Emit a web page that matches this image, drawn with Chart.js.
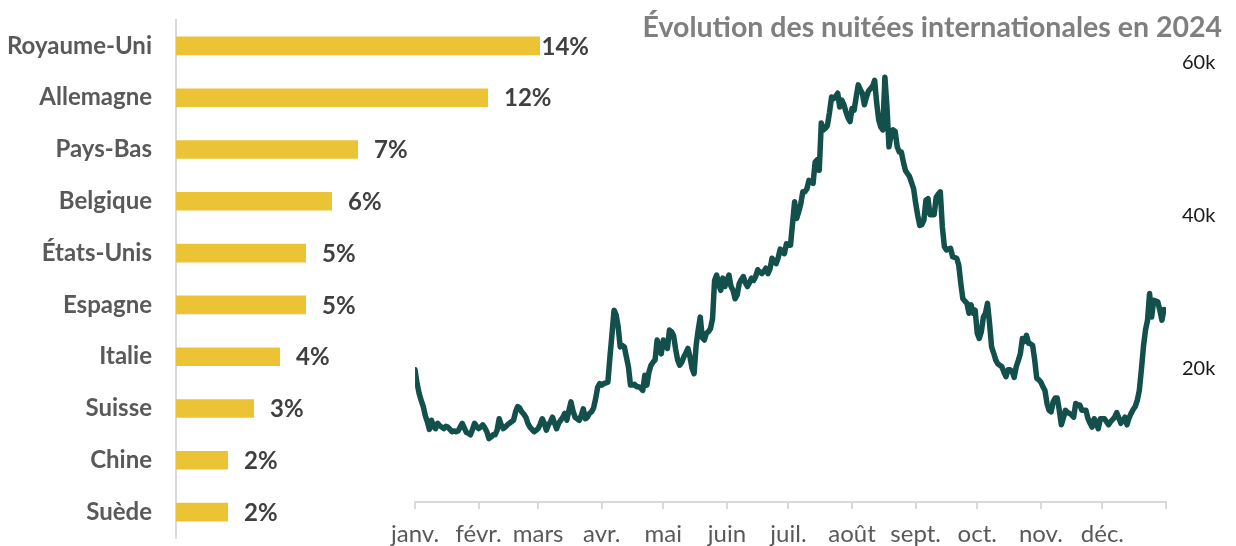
<!DOCTYPE html>
<html><head><meta charset="utf-8">
<script src="https://cdn.jsdelivr.net/npm/chart.js@4"></script>
<style>
html,body{margin:0;padding:0;background:#fff;}
#wrap{position:relative;width:1236px;height:546px;overflow:hidden;background:#fff;}
canvas{position:absolute;top:0;}
#bars{left:0;}
#ligne{left:380px;}
</style></head><body>
<div id="wrap"><canvas id="bars" width="592" height="546"></canvas><canvas id="ligne" width="856" height="546"></canvas></div>
<script>
// ---- Données : parts des nuitées internationales par pays (%)
const pays = ['Royaume-Uni','Allemagne','Pays-Bas','Belgique','États-Unis','Espagne','Italie','Suisse','Chine','Suède'];
const partsPct = [14,12,7,6,5,5,4,3,2,2];

// ---- Données : nuitées internationales quotidiennes 2024 (milliers)
const janv = [19.8,18.0,16.7,15.8,15.0,13.8,13.0,12.0,13.2,12.4,12.1,12.8,12.5,12.3,12.1,12.4,12.3,12.0,11.7,11.8,11.7,11.8,12.3,12.8,12.2,11.6,11.5,11.3,12.0,12.8,12.4];
const fevr = [12.1,12.3,12.6,12.2,11.7,10.8,11.0,11.3,11.3,11.9,13.4,12.6,12.1,12.3,12.6,12.8,13.0,13.2,14.3,15.0,14.8,14.3,14.0,13.6,12.8,12.3,12.0,11.7,11.9];
const mars = [12.1,12.7,13.4,12.8,11.9,12.6,13.0,13.6,12.8,12.1,12.8,13.2,13.6,14.1,13.2,14.5,15.6,14.4,13.6,13.4,13.2,13.8,14.7,13.4,13.6,14.1,14.3,14.8,16.0,17.5,18.0];
const avr = [17.8,18.0,18.1,18.2,21.5,24.5,27.6,27.0,25.4,22.8,23.0,22.8,21.5,20.2,17.8,17.8,17.9,17.6,17.6,17.4,17.1,19.1,17.8,19.5,20.4,20.8,21.1,23.7,22.5,21.9];
const mai = [23.7,23.0,22.6,25.0,24.8,24.3,22.5,21.1,20.4,20.8,21.5,22.0,22.6,21.5,20.0,19.3,23.0,25.0,26.7,24.0,23.7,24.6,24.8,25.2,26.5,31.5,32.2,31.0,30.2,31.8,30.7];
const juin = [31.5,32.2,30.7,30.2,29.1,29.6,31.1,31.6,32.0,31.2,30.7,31.2,31.8,31.5,32.0,32.9,32.6,32.4,32.7,33.1,32.4,33.0,34.4,34.0,33.7,34.5,35.6,35.2,35.0,36.3];
const juil = [36.1,36.1,39.0,41.8,39.6,40.5,41.5,43.1,43.1,43.5,44.6,44.4,44.2,47.0,47.3,45.9,52.1,51.2,51.4,51.8,53.5,55.5,55.3,55.6,56.0,54.2,55.1,54.5,53.6,52.8,52.3];
const aout = [54.0,53.8,55.5,57.1,56.5,56.0,54.5,55.5,56.3,56.6,56.9,57.7,54.7,52.5,51.6,51.2,58.1,54.2,49.0,50.5,51.2,51.0,49.0,48.3,48.3,47.0,45.9,45.5,45.1,44.3,43.5];
const sept = [41.6,40.0,38.7,38.8,39.4,42.0,42.2,40.1,40.1,40.1,42.4,42.8,43.1,38.5,35.9,35.5,35.6,35.7,34.6,34.5,34.4,33.5,31.1,29.1,28.8,28.5,27.2,28.3,27.2,27.6];
const oct = [24.6,23.9,24.8,26.7,27.2,28.5,25.9,22.8,22.0,21.1,20.6,20.4,20.2,19.5,18.9,19.8,19.8,19.6,18.8,20.2,21.0,21.9,23.9,23.5,24.3,23.3,23.2,23.0,21.1,18.7,18.5];
const nov = [18.2,17.6,17.1,15.4,14.5,14.3,15.6,16.1,16.1,14.5,12.6,13.5,14.5,14.2,14.1,13.9,13.6,15.4,15.2,15.2,14.5,14.5,14.5,13.4,12.8,12.3,13.4,12.8,12.1,13.4];
const dec = [13.4,13.4,13.0,12.6,13.0,13.3,13.6,14.2,13.5,12.8,13.2,13.6,12.6,13.5,14.1,14.6,15.0,15.8,17.1,19.8,22.8,25.0,26.3,29.8,26.7,28.9,28.8,28.7,27.6,26.3,27.7];

// ---- Axe des mois
const moisLabels = ['janv.','févr.','mars','avr.','mai','juin','juil.','août','sept.','oct.','nov.','déc.',''];
const debutsMois = [0,31,60,91,121,152,182,213,244,274,305,335,366];
const yTicksK = [20,40,60];

const nuitees = [].concat(janv,fevr,mars,avr,mai,juin,juil,aout,sept,oct,nov,dec);
const jours = nuitees.map((_, i) => i);

const FONT = 'Lato, "Noto Sans", sans-serif';

const etiquettesBarres = {
  id: 'etiquettesBarres',
  afterDatasetsDraw(chart) {
    const {ctx, chartArea} = chart;
    const meta = chart.getDatasetMeta(0);
    ctx.save();
    ctx.font = 'bold 24px ' + FONT;
    ctx.fillStyle = '#404040';
    ctx.textBaseline = 'middle';
    ctx.textAlign = 'left';
    meta.data.forEach((bar, i) => {
      const txt = partsPct[i] + '%';
      const w = ctx.measureText(txt).width;
      const x = Math.min(bar.x + 16, chartArea.right - 3 - w);
      ctx.fillText(txt, x, bar.y + 1);
    });
    ctx.restore();
  }
};

new Chart(document.getElementById('bars'), {
  type: 'bar',
  data: {
    labels: pays,
    datasets: [{
      data: partsPct,
      backgroundColor: '#EBC335',
      borderWidth: 0,
      categoryPercentage: 1,
      barPercentage: 0.36
    }]
  },
  options: {
    indexAxis: 'y',
    responsive: false,
    animation: false,
    layout: {padding: {top: 20, bottom: 8, left: 0, right: 0}},
    plugins: {legend: {display: false}, tooltip: {enabled: false}},
    scales: {
      x: {display: false, min: 0, max: 16},
      y: {
        afterFit: (s) => { s.width = 176; s.paddingTop = 0; s.paddingBottom = 0; },
        grid: {display: false, drawTicks: false},
        border: {display: true, color: '#d9d9d9', width: 2},
        ticks: {font: {family: FONT, size: 24, weight: 'bold'}, color: '#595959', padding: 24}
      }
    }
  },
  plugins: [etiquettesBarres]
});

new Chart(document.getElementById('ligne'), {
  type: 'line',
  data: {
    labels: jours,
    datasets: [{
      data: nuitees,
      borderColor: '#134F4B',
      borderWidth: 5.5,
      pointRadius: 0,
      tension: 0,
      borderJoinStyle: 'round',
      borderCapStyle: 'round',
      fill: false
    }]
  },
  options: {
    responsive: false,
    animation: false,
    layout: {padding: {top: 0, bottom: 0, left: 33, right: 14}},
    plugins: {
      legend: {display: false},
      tooltip: {enabled: false},
      title: {
        display: true,
        text: 'Évolution des nuitées internationales en 2024',
        align: 'end',
        color: '#7f7f7f',
        font: {family: FONT, size: 28.5, weight: 'bold'},
        padding: {top: 11, bottom: 17.5}
      }
    },
    scales: {
      x: {
        type: 'linear',
        min: 0,
        max: 366,
        afterFit: (s) => { s.height = 44; },
        afterBuildTicks: (s) => { s.ticks = debutsMois.map(v => ({value: v})); },
        grid: {drawOnChartArea: false, drawTicks: true, tickLength: 7, color: '#d9d9d9', lineWidth: 2},
        border: {display: true, color: '#d9d9d9', width: 2},
        ticks: {
          autoSkip: false, maxRotation: 0, padding: 11,
          font: {family: FONT, size: 24}, color: '#595959',
          callback: (v, i) => moisLabels[i]
        }
      },
      y: {
        position: 'right',
        min: 2.5,
        max: 60,
        afterFit: (s) => { s.width = 56; },
        afterBuildTicks: (s) => { s.ticks = yTicksK.map(v => ({value: v})); },
        grid: {display: false, drawTicks: false},
        border: {display: false},
        ticks: {
          padding: 16,
          font: {family: FONT, size: 20}, color: '#1a1a1a',
          callback: (v) => v + 'k'
        }
      }
    }
  }
});
</script>
</body></html>
